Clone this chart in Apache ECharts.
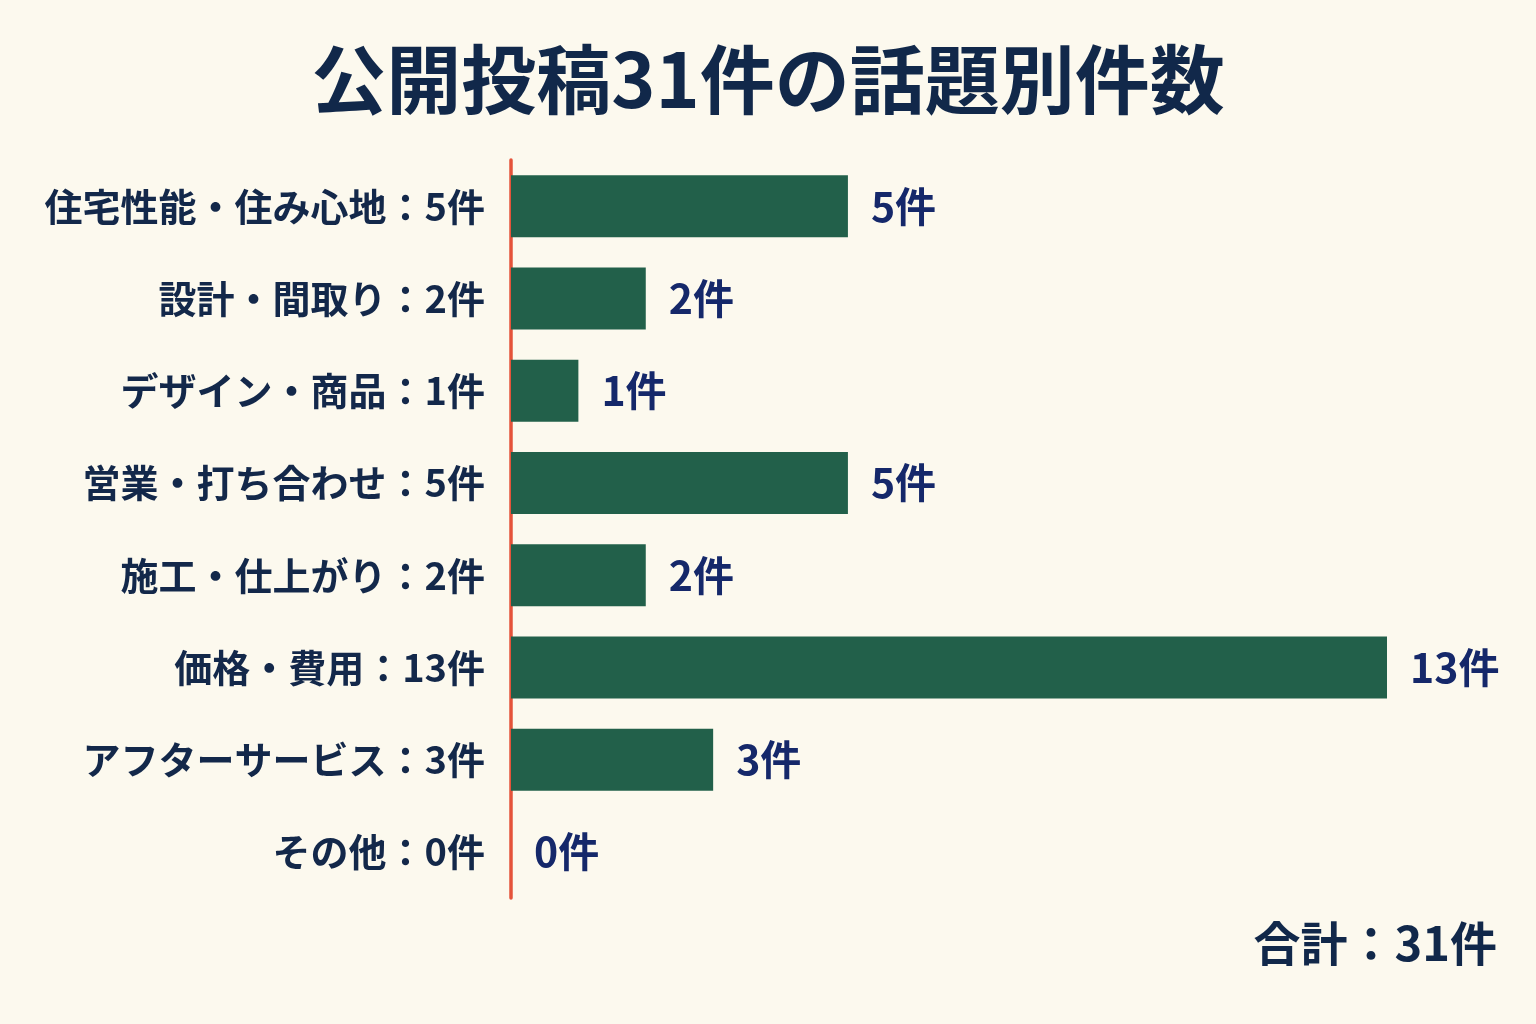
<!DOCTYPE html>
<html><head><meta charset="utf-8">
<script src="https://cdn.jsdelivr.net/npm/echarts@6/dist/echarts.min.js"></script>
<style>html,body{margin:0;padding:0;background:#FCF9EE;}#c{width:1536px;height:1024px;}</style>
</head><body><div id="c"></div>
<script>
const titleText = '公開投稿31件の話題別件数';
const categories = ['住宅性能・住み心地','設計・間取り','デザイン・商品','営業・打ち合わせ','施工・仕上がり','価格・費用','アフターサービス','その他'];
const counts = [5, 2, 1, 5, 2, 13, 3, 0];
const unit = '件';
const totalLabel = '合計：31件';

const font = '"Noto Sans CJK JP", "Noto Sans", sans-serif';
const chart = echarts.init(document.getElementById('c'));
const labelMap = {};
categories.forEach((c, i) => { labelMap[c] = c + '：' + counts[i] + unit; });

chart.setOption({
  backgroundColor: '#FCF9EE',
  title: {
    text: titleText, left: 'center', top: 37,
    textStyle: { fontFamily: font, fontSize: 75, fontWeight: 'bold', color: '#11284A' }
  },
  grid: { left: 511, right: 149, top: 160, height: 738, containLabel: false },
  xAxis: { type: 'value', min: 0, max: 13, show: false },
  yAxis: {
    type: 'category', data: categories, inverse: true,
    axisLine: { show: true, lineStyle: { color: '#E5533A', width: 3.5 } },
    axisTick: { show: false },
    axisLabel: {
      margin: 26, fontFamily: font, fontSize: 38, fontWeight: 'bold', color: '#13284A',
      formatter: v => labelMap[v]
    }
  },
  series: [{
    type: 'bar', data: counts, barWidth: 62,
    itemStyle: { color: '#22604A' },
    label: {
      show: true, position: 'right', distance: 23,
      fontFamily: font, fontSize: 41, fontWeight: 'bold', color: '#15286A',
      formatter: p => p.value + unit
    }
  }],
  graphic: [{
    type: 'text', right: 39, top: 920,
    style: { text: totalLabel, fontFamily: font, fontSize: 47, fontWeight: 'bold', fill: '#11284A' }
  }]
});
</script></body></html>
